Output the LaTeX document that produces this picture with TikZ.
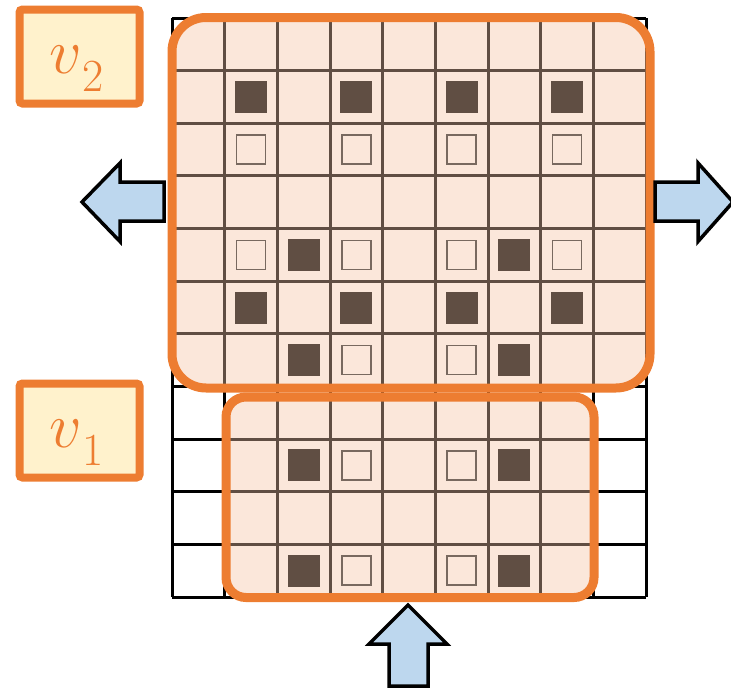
\RequirePackage{fix-cm}
\documentclass[tikz,border=0pt]{standalone}
\definecolor{orng}{HTML}{ED7D31}
\definecolor{peach}{HTML}{FBE7DA}
\definecolor{lyel}{HTML}{FFF2CC}
\definecolor{lblue}{HTML}{BDD7EE}
\definecolor{dbrown}{HTML}{604E43}
\newcommand{\vlab}[1]{$v$\kern1pt\raisebox{-18pt}{\fontsize{46}{46}\selectfont #1}\kern6pt}
\tikzset{
  fsq/.style={rectangle, fill=dbrown, minimum size=32pt, inner sep=0pt},
  osq/.style={rectangle, draw=dbrown!85, fill=peach, line width=1.5pt, minimum size=29pt, inner sep=0pt},
  lbl/.style={rectangle, draw=orng, fill=lyel, line width=8pt, rounded corners=3pt, minimum width=120pt, minimum height=94pt, inner sep=0pt, text=orng, font=\fontsize{64}{64}\selectfont, text height=40pt, text depth=7pt},
  arr/.style={draw=black, fill=lblue, line width=3.5pt, line join=miter},
  blk/.style={draw=black, line width=3pt},
  brn/.style={draw=dbrown, line width=3pt},
  frame/.style={draw=orng, line width=9pt}
}
\begin{document}
\begin{tikzpicture}[x=1pt,y=-1pt]
\useasboundingbox (0,0) rectangle (731,688);
% black grid
\foreach \i in {0,...,9} \draw[blk] (172+\i*52.667,18) -- (172+\i*52.667,597);
\foreach \j in {0,...,11} \draw[blk] (172,18+\j*52.636) -- (646,18+\j*52.636);
% region fills
\fill[peach, rounded corners=34pt] (172,17.5) rectangle (650,388);
\fill[peach, rounded corners=20pt] (226,397) rectangle (594,597.5);
% brown grid inside regions
\begin{scope}
\clip[rounded corners=34pt] (172,17.5) rectangle (650,388);
\foreach \i in {0,...,9} \draw[brn] (172+\i*52.667,18) -- (172+\i*52.667,597);
\foreach \j in {0,...,11} \draw[brn] (172,18+\j*52.636) -- (646,18+\j*52.636);
\end{scope}
\begin{scope}
\clip[rounded corners=20pt] (226,397) rectangle (594,597.5);
\foreach \i in {0,...,9} \draw[brn] (172+\i*52.667,18) -- (172+\i*52.667,597);
\foreach \j in {0,...,11} \draw[brn] (172,18+\j*52.636) -- (646,18+\j*52.636);
\end{scope}
% squares
\foreach \c/\r in {1/1,3/1,5/1,7/1,2/4,6/4,1/5,3/5,5/5,7/5,2/6,6/6,2/8,6/8,2/10,6/10}
  \node[fsq] (f\c-\r) at (172+\c*52.667+26.33, 18+\r*52.636+26.32) {};
\foreach \c/\r in {1/2,3/2,5/2,7/2,1/4,3/4,5/4,7/4,3/6,5/6,3/8,5/8,3/10,5/10}
  \node[osq] (o\c-\r) at (172+\c*52.667+26.33, 18+\r*52.636+26.32) {};
% orange frames
\draw[frame, rounded corners=34pt] (172,17.5) rectangle (650,388);
\draw[frame, rounded corners=20pt] (226,397) rectangle (594,597.5);
% labels
\node[lbl] (v2) at (79.5,56.5) {\vlab{2}};
\node[lbl] (v1) at (79.5,430.5) {\vlab{1}};
% arrows
\draw[arr] (164,182) -- (120,182) -- (120,163) -- (82,202) -- (120,241.5) -- (120,221) -- (164,221) -- cycle;
\draw[arr] (655,182) -- (698,182) -- (698,163) -- (733,202) -- (698,241.5) -- (698,221) -- (655,221) -- cycle;
\draw[arr] (389,686) -- (389,644) -- (369,644) -- (408,605) -- (447,644) -- (428,644) -- (428,686) -- cycle;
\end{tikzpicture}
\end{document}
